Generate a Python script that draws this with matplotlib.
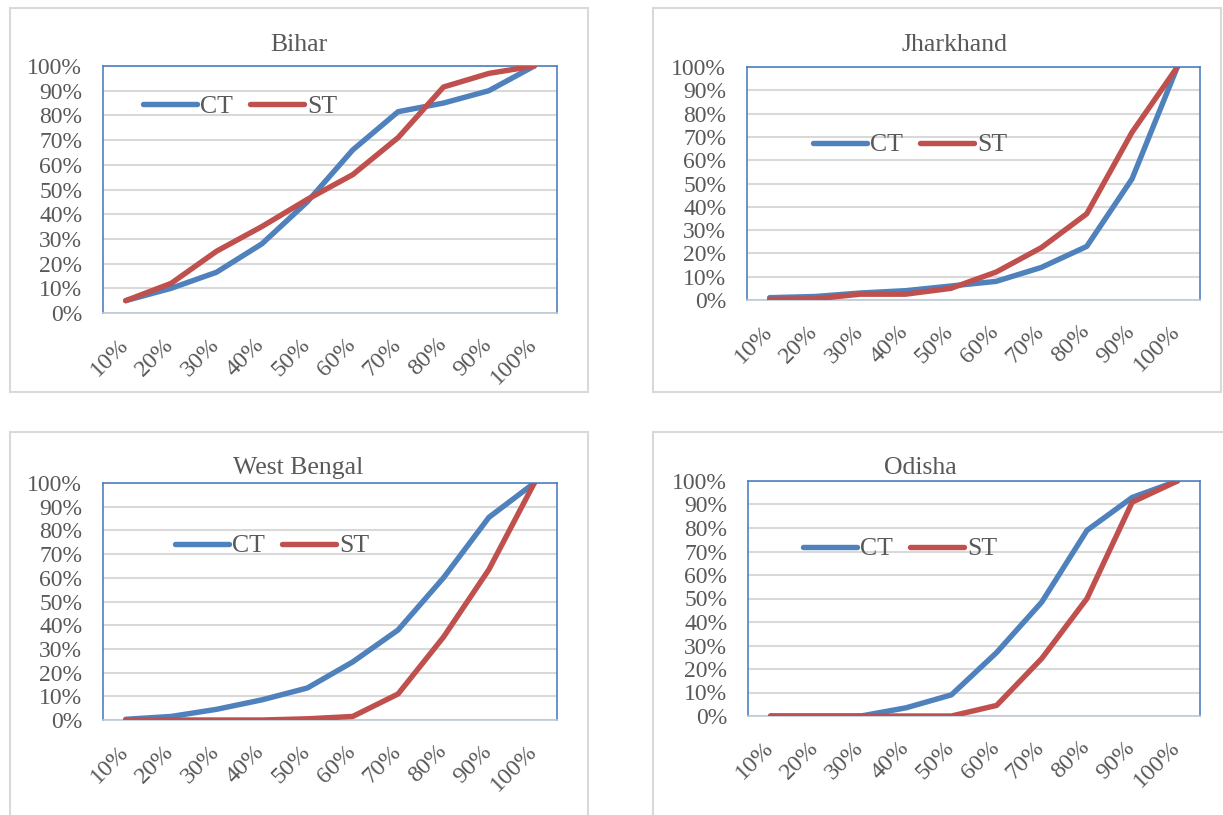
import matplotlib.pyplot as plt
from matplotlib.patches import Rectangle
from matplotlib.transforms import ScaledTranslation

# ------------------- Data -------------------
deciles = ["10%", "20%", "30%", "40%", "50%", "60%", "70%", "80%", "90%", "100%"]

bihar_ct = [5, 10, 16.5, 28, 45, 66, 81.5, 85, 90, 100]
bihar_st = [5, 12, 25, 35, 46, 56, 71, 91.5, 97, 100]

jharkhand_ct = [1, 1.5, 3, 4, 6, 8, 14, 23, 52, 100]
jharkhand_st = [0.3, 0.5, 2.5, 2.5, 5, 12, 22.5, 37, 72, 100]

wb_ct = [0.3, 1.5, 4.5, 8.5, 13.5, 24.5, 38, 60, 85.5, 100]
wb_st = [0, 0, 0, 0, 0.5, 1.5, 11, 35, 63.5, 100]

odisha_ct = [0, 0, 0, 3.5, 9, 27, 48.5, 79, 93, 100]
odisha_st = [0, 0, 0, 0, 0, 4.5, 24.5, 50, 91, 100]

# ------------------- Style -------------------
W, H = 1223, 815
BLUE = "#4F81BD"
RED = "#C0504D"
GREY_TXT = "#595959"
GRID = "#D9D9D9"
plt.rcParams["font.family"] = ["Liberation Serif", "DejaVu Serif"]

fig = plt.figure(figsize=(W / 100, H / 100), dpi=100)


def px_rect(l, t, r, b):
    return [l / W, 1 - b / H, (r - l) / W, (b - t) / H]


# panel: title, ct, st, frame box, plot box, title pos, legend pos
panels = [
    ("Bihar", bihar_ct, bihar_st, (10, 8, 588, 392), (103, 66, 557, 313), (299, 45), (143, 107)),
    ("Jharkhand", jharkhand_ct, jharkhand_st, (653, 8, 1221, 392), (747, 67, 1200, 300), (955, 45), (813, 145)),
    ("West Bengal", wb_ct, wb_st, (10, 432, 588, 816), (103, 483, 557, 720), (298, 468), (175, 546)),
    ("Odisha", odisha_ct, odisha_st, (653, 432, 1230, 820), (748, 481, 1200, 716), (920, 468), (803, 549)),
]

for name, ct, st, frame, box, tpos, lpos in panels:
    # outer chart frame
    fl, ft, fr, fb = frame
    fig.add_artist(Rectangle((fl / W, 1 - fb / H), (fr - fl) / W, (fb - ft) / H,
                             transform=fig.transFigure, fill=False,
                             edgecolor=GRID, linewidth=1.5, clip_on=False))

    ax = fig.add_axes(px_rect(*box))
    x = list(range(len(deciles)))
    ax.plot(x, ct, color=BLUE, linewidth=3.9, solid_capstyle="round",
            solid_joinstyle="round", label="CT", zorder=3)
    ax.plot(x, st, color=RED, linewidth=3.9, solid_capstyle="round",
            solid_joinstyle="round", label="ST", zorder=3)

    ax.set_xlim(-0.5, len(deciles) - 0.5)
    ax.set_ylim(0, 100)
    ax.set_yticks(range(0, 101, 10))
    ax.set_yticklabels([f"{v}%" for v in range(0, 101, 10)])
    ax.set_xticks(x)
    ax.set_xticklabels(deciles, rotation=45, ha="right", va="top")
    ax.tick_params(axis="both", length=0, labelsize=17, colors=GREY_TXT)
    ax.tick_params(axis="y", pad=15)
    ax.tick_params(axis="x", pad=15, labelsize=17.5)
    for lab in ax.get_xticklabels():
        lab.set_transform(lab.get_transform() + ScaledTranslation(0.07, 0, fig.dpi_scale_trans))

    ax.grid(axis="y", color=GRID, linewidth=1.5)
    ax.set_axisbelow(True)
    for s in ax.spines.values():
        s.set_color(BLUE)
        s.set_linewidth(1.2)
    ax.spines["bottom"].set_color("#BFC9D9")

    fig.text(tpos[0] / W, 1 - tpos[1] / H, name, ha="center", va="center",
             fontsize=18.5, color=GREY_TXT)

    ax.legend(loc="center left", bbox_to_anchor=(lpos[0] / W, 1 - lpos[1] / H),
              bbox_transform=fig.transFigure, ncol=2, frameon=False,
              fontsize=18.5, handlelength=2.1, handletextpad=0.1,
              columnspacing=0.7, borderpad=0, borderaxespad=0,
              labelcolor=GREY_TXT)

fig.savefig("out.png", dpi=100)
